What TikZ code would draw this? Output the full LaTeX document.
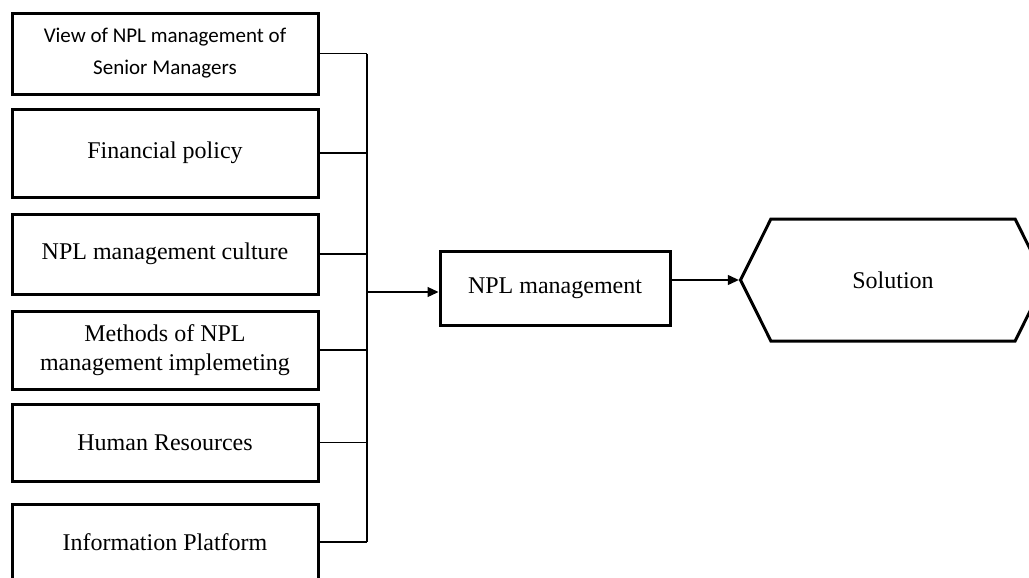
\documentclass[tikz,border=0pt]{standalone}
\usepackage{fontspec}
\setmainfont{Liberation Serif}
\newfontfamily\calibrifont{Carlito}
\usetikzlibrary{arrows.meta,shapes.symbols}

\tikzset{
  every factor/.style={draw, line width=1.5pt, minimum width=153pt, inner sep=2pt,
    align=center, font=\fontsize{12}{14.5}\selectfont},
  factor 1/.style={font=\calibrifont\fontsize{10.5}{16}\selectfont},
  every result/.style={draw, line width=1.5pt, align=center,
    font=\fontsize{12}{14.5}\selectfont}
}

\begin{document}
\begin{tikzpicture}[x=0.5pt, y=-0.5pt, line width=0.6pt, >={Triangle[length=5.5pt,width=5pt]}]

	\useasboundingbox (0,0) rectangle (1029,578);

	% factor boxes
	\foreach \t/\cy/\h [count=\i] in {{View of NPL management of\\Senior Managers}/53.5/81,
		{Financial policy}/153/88, {NPL management culture}/254/80,
		{Methods of NPL\\management implemeting}/350/78, {Human Resources}/442.5/77,
		{Information Platform}/542/76}
	\node [every factor/.try, factor \i/.try, minimum height=\h*0.5pt] (factor-\i) at (165,\cy) {\t};

	% management and solution
	\node [every result/.try, minimum width=115pt, minimum height=37pt] (npl) at (555,288.5) {NPL management};
	\node [every result/.try, shape=signal, signal to=west and east, signal pointer angle=127,
		minimum width=152.5pt, minimum height=61pt] (solution) at (893,280) {Solution};

	% bus
	\coordinate (bus) at (367,292);

	% lines from factors to bus
	\foreach \i in {1,...,6}
		\draw (factor-\i.east) -- (factor-\i.east -| bus);
	\draw (factor-1.east -| bus) -- (factor-6.east -| bus);

	% arrows
	\draw [->] (bus) -- (bus -| npl.west);
	\draw [->] (solution.west -| npl.east) -- (solution.west);

\end{tikzpicture}
\end{document}
